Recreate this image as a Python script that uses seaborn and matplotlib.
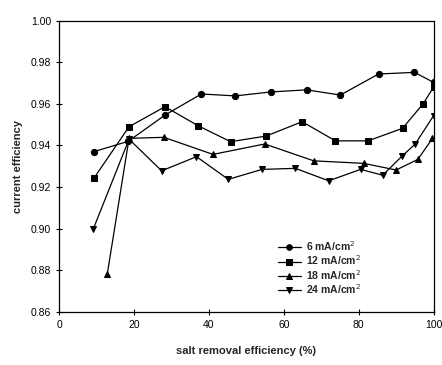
import numpy as np
import pandas as pd
import matplotlib
matplotlib.use("Agg")
import matplotlib.pyplot as plt
import seaborn as sns

sns.set_theme(style="white")
plt.rcParams['font.family'] = ['Liberation Sans', 'DejaVu Sans']

labels = ["6 mA/cm$^2$", "12 mA/cm$^2$", "18 mA/cm$^2$", "24 mA/cm$^2$"]

x6 = [9.3, 18.5, 28.3, 38.0, 47.1, 56.6, 66.1, 75.1, 85.3, 94.9, 100.0]
y6 = [0.937, 0.942, 0.9546, 0.9647, 0.9638, 0.9657, 0.9667, 0.9642, 0.9743, 0.9751, 0.9703]

x12 = [9.3, 18.7, 28.3, 37.1, 45.8, 55.3, 64.9, 73.8, 82.5, 91.7, 97.2, 100.0]
y12 = [0.9242, 0.949, 0.9586, 0.9495, 0.9418, 0.9445, 0.9514, 0.9422, 0.9422, 0.9482, 0.960, 0.968]

x18 = [12.9, 18.7, 28.0, 41.1, 54.9, 68.0, 81.3, 90.0, 95.8, 99.7]
y18 = [0.8784, 0.9434, 0.9439, 0.9357, 0.9407, 0.9326, 0.9314, 0.9282, 0.9333, 0.9434]

x24 = [9.2, 18.7, 27.4, 36.7, 45.2, 54.2, 63.1, 72.0, 80.5, 86.4, 91.6, 95.1, 100.0]
y24 = [0.9001, 0.9430, 0.9278, 0.9346, 0.9237, 0.9285, 0.9290, 0.9230, 0.9285, 0.9257, 0.9349, 0.9407, 0.9543]

xticks = [0, 20, 40, 60, 80, 100]
yticks = [0.86, 0.88, 0.90, 0.92, 0.94, 0.96, 0.98, 1.00]

frames = []
for lab, xs, ys in zip(labels, [x6, x12, x18, x24], [y6, y12, y18, y24]):
    frames.append(pd.DataFrame({"x": xs, "y": ys, "series": lab}))
df = pd.concat(frames, ignore_index=True)

fig = plt.figure(figsize=(4.42, 3.65), dpi=100)
ax = fig.add_axes([0.1335, 0.1452, 0.8475, 0.7986])

markers = dict(zip(labels, ["o", "s", "^", "v"]))
palette = dict(zip(labels, ["black"] * 4))
sns.lineplot(data=df, x="x", y="y", hue="series", style="series",
             markers=markers, dashes=False, palette=palette, sort=False,
             estimator=None, markersize=4.5, linewidth=0.9,
             markeredgecolor="black", ax=ax)

ax.set_xlim(0, 100)
ax.set_ylim(0.86, 1.00)
ax.set_xticks(xticks)
ax.set_xticklabels([str(t) for t in xticks], fontsize=7.5)
ax.set_yticks(yticks)
ax.set_yticklabels([f"{t:.2f}" for t in yticks], fontsize=7.5)
ax.tick_params(axis="both", direction="inout", length=5, width=0.8, colors="black", pad=3)
ax.tick_params(left=True, bottom=True)
for s in ax.spines.values():
    s.set_color("black")
    s.set_linewidth(0.9)

ax.set_xlabel("salt removal efficiency (%)", fontsize=8, fontweight="bold", labelpad=12)
ax.set_ylabel("current efficiency", fontsize=8, fontweight="bold", labelpad=6)

leg = ax.legend(loc="upper left", bbox_to_anchor=(0.565, 0.275), frameon=False,
                fontsize=7.5, handlelength=2.2, handletextpad=0.5,
                labelspacing=0.05, borderpad=0.2, markerscale=0.9)
for t in leg.get_texts():
    t.set_fontweight("bold")

fig.savefig("out.png", dpi=100)
